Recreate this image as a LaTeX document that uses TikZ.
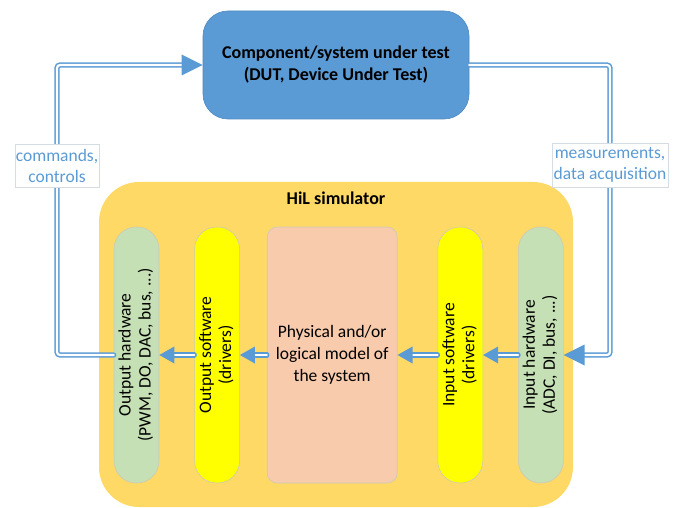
\documentclass[tikz,border=0pt]{standalone}
\usepackage{fontspec}
\setmainfont{Carlito}
\usetikzlibrary{positioning,arrows.meta}

\definecolor{dutblue}{HTML}{5B9BD5}
\definecolor{dutedge}{HTML}{4E88C2}
\definecolor{hilgold}{HTML}{FFD966}
\definecolor{hwgreen}{HTML}{C5E0B4}
\definecolor{swyellow}{HTML}{FFFF00}
\definecolor{modelpeach}{HTML}{F8CBAD}
\definecolor{boxedge}{HTML}{CDC9B8}
\definecolor{tagedge}{HTML}{D6DCE4}

\newcommand{\hiltxt}{\fontsize{17.5}{20}\selectfont}
\newcommand{\uptext}[1]{\rotatebox{90}{\begin{tabular}{@{}c@{}}#1\end{tabular}}}

\tikzset{
  colbox/.style={draw=boxedge, line width=0.6pt, minimum width=45pt, minimum height=256pt,
    rounded corners=22pt, inner sep=0pt, font=\hiltxt},
  flowline/.style={draw=dutblue, double=white, double distance=2.2pt, line width=1.5pt,
    line cap=round, rounded corners=3pt, -{Triangle[length=15pt,width=17pt,line width=0pt]}},
  bigflow/.style={flowline, -{Triangle[length=21pt,width=21pt,line width=0pt]}},
  flowtag/.style={draw=tagedge, line width=0.8pt, fill=white, text=dutblue, align=center,
    font=\fontsize{17.5}{21}\selectfont, inner sep=0pt},
}

\begin{document}
\begin{tikzpicture}[x=1pt, y=-1pt, node distance=35pt]
  \useasboundingbox (0,0) rectangle (683,508);

  % simulator
  \node[fill=hilgold, rounded corners=40pt, minimum width=474pt, minimum height=325pt]
    (hil) at (336,344.5) {};
  \node[font=\fontsize{18}{22}\selectfont\bfseries] (hiltitle) at (336,198) {HiL simulator};

  \node[colbox, fill=hwgreen] (ohw) at (136.5,355)
    {\uptext{Output hardware\\(PWM, DO, DAC, bus, ...)}};
  \node[colbox, fill=swyellow, right=35pt of ohw] (osw)
    {\uptext{Output software\\(drivers)}};
  \node[draw=boxedge, line width=0.6pt, fill=modelpeach, rounded corners=10pt,
    minimum width=130pt, minimum height=256pt, align=center,
    font=\fontsize{17.5}{22}\selectfont, right=27pt of osw] (model)
    {Physical and/or\\logical model of\\the system};
  \node[colbox, fill=swyellow, right=40pt of model] (isw)
    {\uptext{Input software\\(drivers)}};
  \node[colbox, fill=hwgreen, right=35pt of isw] (ihw)
    {\uptext{Input hardware\\(ADC, DI, bus, ...)}};

  % device under test
  \node[draw=dutedge, line width=0.6pt, fill=dutblue, rounded corners=25pt,
    minimum width=266pt, minimum height=108pt, align=center,
    font=\fontsize{18}{22}\selectfont\bfseries] (dut) at (336,65)
    {Component/system under test\\(DUT, Device Under Test)};

  \coordinate (lc) at (57,65);
  \coordinate (rc) at (610,355);

  \draw[bigflow] (ohw.west) -| (lc) -- (dut.west);
  \draw[bigflow] (dut.east) -| (rc) -- (ihw.east);

  \draw[flowline] (model.west) -- (osw.east);
  \draw[flowline] (osw.west) -- (ohw.east);
  \draw[flowline] (ihw.west) -- (isw.east);
  \draw[flowline] (isw.west) -- (model.east);

  \node[flowtag, minimum width=84pt, minimum height=43pt] (cmdtag) at (57,165.5)
    {commands,\\controls};
  \node[flowtag, minimum width=116pt, minimum height=44pt] (meastag) at (610,165)
    {measurements,\\data acquisition};
\end{tikzpicture}
\end{document}
